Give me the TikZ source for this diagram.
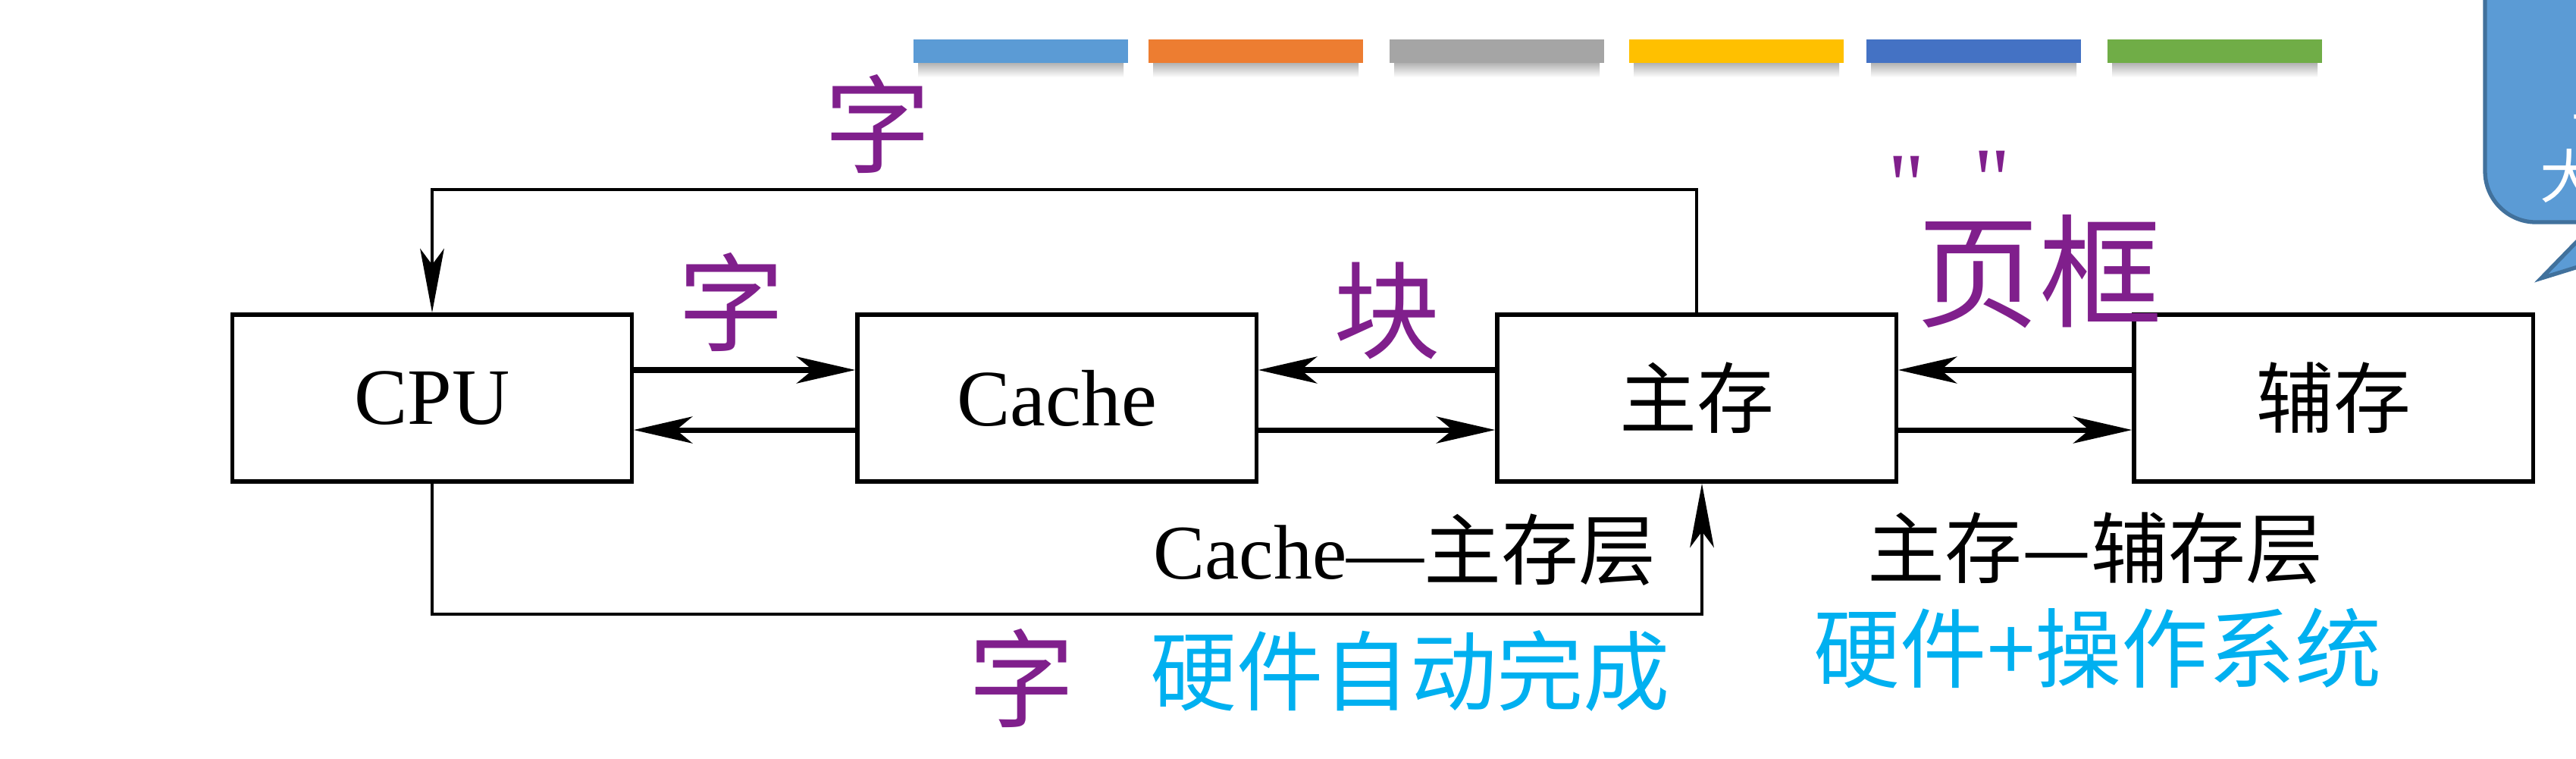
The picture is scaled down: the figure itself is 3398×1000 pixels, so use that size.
\documentclass[tikz,border=0pt]{standalone}
\usepackage{fontspec}
\setmainfont{Liberation Serif}
\newfontfamily\cjk{Noto Sans CJK SC}
\usetikzlibrary{arrows.meta}
\definecolor{hw}{RGB}{128,31,140}
\definecolor{cyantext}{RGB}{0,176,240}
\definecolor{barA}{HTML}{5B9BD5}
\definecolor{barB}{HTML}{ED7D31}
\definecolor{barC}{HTML}{A5A5A5}
\definecolor{barD}{HTML}{FFC000}
\definecolor{barE}{HTML}{4472C4}
\definecolor{barF}{HTML}{70AD47}
\definecolor{calloutfill}{HTML}{5B9BD5}
\definecolor{calloutdraw}{HTML}{41719C}
\begin{document}
\begin{tikzpicture}[x=0.01cm,y=-0.01cm,
  unit/.style={draw,line width=1.5pt,minimum width=5.26cm,minimum height=2.2cm,inner sep=0pt,font=\fontsize{30}{32}\selectfont},
  cjkunit/.style={unit,font=\cjk\fontsize{29}{31}\selectfont},
  bus/.style={line width=2pt,-{Stealth[length=22pt,width=10pt,inset=6pt]}},
  loopline/.style={line width=1.2pt,-{Stealth[length=24pt,width=9pt,inset=6pt]}},
  lbl/.style={font=\fontsize{29}{31}\selectfont,inner sep=0pt},
  cjklbl/.style={font=\cjk\fontsize{29}{31}\selectfont,inner sep=0pt},
  autotext/.style={text=cyantext,font=\cjk\fontsize{32.5}{34}\selectfont,inner sep=0pt},
  hand/.style={text=hw,font=\cjk\fontsize{40}{42}\selectfont,inner sep=0pt},
  calltext/.style={text=white,font=\cjk\fontsize{22}{22}\selectfont,inner sep=0pt,anchor=west}
]
\useasboundingbox (0,0) rectangle (3398,1000);
\fill[white] (0,0) rectangle (3398,1000);

% colour bars
\foreach \x/\c in {1205/barA,1515/barB,1833/barC,2149/barD,2462/barE,2780/barF}{
  \shade[top color=black!30,bottom color=white] (\x+6,83) rectangle (\x+277,102);
  \fill[\c] (\x,52) rectangle (\x+283,83);
}

% callout
\begin{scope}
\clip (0,0) rectangle (3398,1000);
\draw[fill=calloutfill,draw=calloutdraw,line width=1.5pt]
  (3278,-100) -- (3278,226) arc[start angle=180,end angle=270,radius=0.67cm]
  -- (3424,293) -- (3352,367) -- (3591,293) -- (3700,293) -- (3700,-100) -- cycle;
\node[calltext] (c1) at (3391,123) {主};
\node[calltext] (c2) at (3350,232) {大};
\end{scope}

% units
\node[unit] (cpu) at (570,525) {CPU};
\node[unit] (cache) at (1394,525) {Cache};
\node[cjkunit] (zhu) at (2238,525) {主存};
\node[cjkunit] (fu) at (3078,525) {辅存};

% buses
\draw[bus] ([yshift=0.37cm]cpu.east) -- ([yshift=0.37cm]cache.west);
\draw[bus] ([yshift=-0.42cm]cache.west) -- ([yshift=-0.42cm]cpu.east);
\draw[bus] ([yshift=0.37cm]zhu.west) -- ([yshift=0.37cm]cache.east);
\draw[bus] ([yshift=-0.42cm]cache.east) -- ([yshift=-0.42cm]zhu.west);
\draw[bus] ([yshift=0.37cm]fu.west) -- ([yshift=0.37cm]zhu.east);
\draw[bus] ([yshift=-0.42cm]zhu.east) -- ([yshift=-0.42cm]fu.west);

% loops
\coordinate (topy) at (0,250);
\coordinate (boty) at (0,810);
\draw[loopline] (zhu.north) -- (zhu.north |- topy) -| (cpu.north);
\draw[loopline] (cpu.south) -- (cpu.south |- boty) -| ([xshift=0.07cm]zhu.south);

% labels
\node[lbl] (l1) at (1853,725) {Cache—{\cjk 主存层}};
\node[cjklbl] (l2) at (2764,723) {主存—辅存层};
\node[autotext] (a1) at (1860,885) {硬件自动完成};
\node[autotext] (a2) at (2767,855) {硬件+操作系统};

% handwritten notes
\node[hand] (h1) at (1158,163) {字};
\node[hand] (h2) at (965,398) {字};
\node[hand] (h3) at (1830,410) {块};
\node[hand] (h4) at (1348,894) {字};
\node[hand,font=\cjk\fontsize{46}{48}\selectfont] (h5) at (2690,358) {页框};
\node[hand,font=\fontsize{34}{34}\selectfont] (h6) at (2515,245) {\textquotedbl};
\node[hand,font=\fontsize{34}{34}\selectfont] (h7) at (2628,238) {\textquotedbl};
\end{tikzpicture}
\end{document}
